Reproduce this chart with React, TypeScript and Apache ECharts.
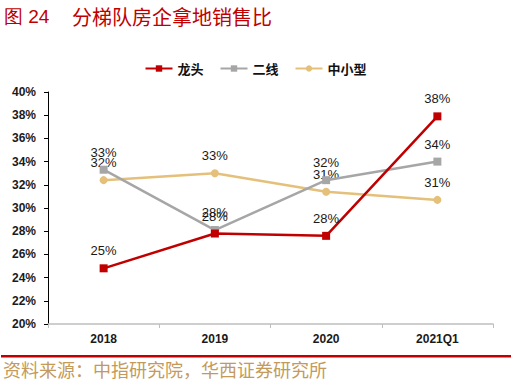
import React, { useEffect, useRef } from "react";
import * as echarts from "echarts";

const categories = ["2018", "2019", "2020", "2021Q1"];
const leaderValues = [24.8, 27.8, 27.6, 37.9];
const secondTierValues = [33.3, 28.1, 32.4, 34.0];
const smallMidValues = [32.4, 33.0, 31.4, 30.7];
const seriesNames = ["龙头", "二线", "中小型"];
const yTicks = { min: 20, max: 40, interval: 2 };
const titleNum = "图 24";
const titleText = "分梯队房企拿地销售比";
const sourceText = "资料来源：中指研究院，华西证券研究所";

const RED = "#C00000";
const GRAY = "#A6A6A6";
const GOLD = "#E4C07A";

export default function App() {
  const ref = useRef<HTMLDivElement>(null);
  useEffect(() => {
    if (!ref.current) return;
    const chart = echarts.init(ref.current, null, { renderer: "svg" });
    const labelStyle = {
      show: true,
      position: "top" as const,
      distance: 7,
      fontSize: 13,
      color: "#1a1a1a",
      fontFamily: "Liberation Sans, Arial, sans-serif",
      formatter: (p: any) => Math.round(p.value) + "%",
    };
    const mk = (name: string, data: number[], color: string, symbol: string, z: number, size: number) => ({
      name,
      type: "line",
      data,
      symbol,
      symbolSize: size,
      z,
      lineStyle: { color, width: 2.5 },
      itemStyle: { color },
      label: labelStyle,
    });
    chart.setOption({
      animation: false,
      graphic: [
        {
          type: "text",
          left: 4,
          top: 7,
          style: { text: titleNum, fontSize: 19, fill: RED, fontFamily: "Liberation Sans, Arial, sans-serif" },
        },
        {
          type: "text",
          left: 72,
          top: 6,
          style: { text: titleText, fontSize: 20, fill: RED, fontFamily: "Noto Sans CJK SC" },
        },
        {
          type: "rect",
          shape: { x: 1, y: 355, width: 510, height: 2.5 },
          style: { fill: RED },
        },
        {
          type: "text",
          left: 3,
          top: 360,
          style: { text: sourceText, fontSize: 18, fill: "#C49A5A", fontFamily: "Noto Sans CJK SC" },
        },
      ],
      legend: {
        data: seriesNames,
        top: 57,
        left: "center",
        itemWidth: 27,
        itemHeight: 8,
        itemGap: 16,
        textStyle: { fontSize: 13, fontWeight: "bold", color: "#111", fontFamily: "Noto Sans CJK SC" },
      },
      grid: { left: 48, right: 18, top: 92, bottom: 60 },
      xAxis: {
        type: "category",
        data: categories,
        boundaryGap: true,
        axisLine: { lineStyle: { color: "#BFBFBF", width: 1.5 } },
        axisTick: { show: true, length: 4, lineStyle: { color: "#BFBFBF" } },
        axisLabel: {
          margin: 9,
          fontSize: 12,
          fontWeight: "bold",
          color: "#1a1a1a",
          fontFamily: "Liberation Sans, Arial, sans-serif",
        },
      },
      yAxis: {
        type: "value",
        min: yTicks.min,
        max: yTicks.max,
        interval: yTicks.interval,
        axisLine: { show: true, lineStyle: { color: "#000", width: 1 } },
        axisTick: { show: true, length: 4, lineStyle: { color: "#000" } },
        splitLine: { show: false },
        axisLabel: {
          margin: 12,
          fontSize: 12,
          fontWeight: "bold",
          color: "#1a1a1a",
          fontFamily: "Liberation Sans, Arial, sans-serif",
          formatter: (v: number) => v + "%",
        },
      },
      series: [
        mk(seriesNames[0], leaderValues, RED, "rect", 4, 8),
        mk(seriesNames[1], secondTierValues, GRAY, "rect", 3, 8),
        mk(seriesNames[2], smallMidValues, GOLD, "circle", 2, 8),
      ],
    });
    return () => chart.dispose();
  }, []);
  return <div ref={ref} style={{ width: 511, height: 384, position: "absolute", left: 0, top: 0 }} />;
}
